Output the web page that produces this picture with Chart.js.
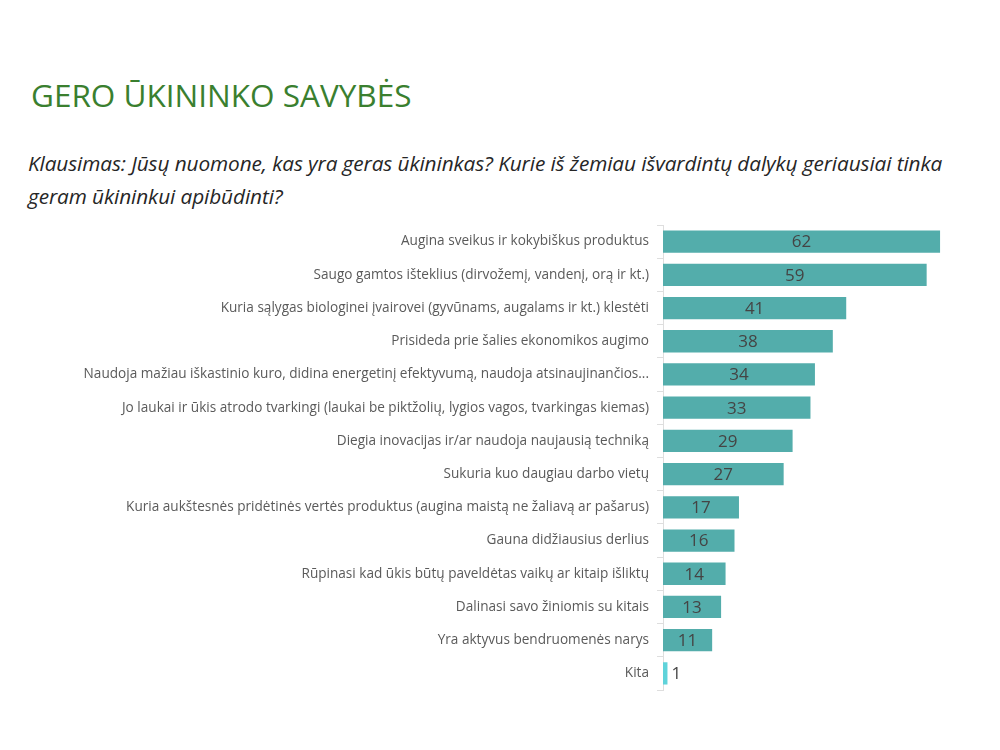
<!DOCTYPE html>
<html lang="lt">
<head>
  <meta charset="UTF-8" />
  <title>Gero ūkininko savybės</title>
  <script src="https://cdn.jsdelivr.net/npm/chart.js"></script>
  <style>
    body { margin: 0; background: #fff; font-family: "Open Sans", sans-serif; }
    #wrap { position: relative; width: 1000px; height: 750px; }
    h1 { position: absolute; left: 31px; top: 73px; margin: 0; font-weight: 400; font-size: 31.5px; color: #3a7f2f; }
    p.q { position: absolute; left: 28px; top: 147px; margin: 0; width: 968px; font-style: italic; font-size: 20.8px; line-height: 33px; color: #262626; letter-spacing: -0.1px; }
    #chartBox { position: absolute; left: 0; top: 0; width: 1000px; height: 750px; }
  </style>
</head>
<body>
  <div id="wrap">
    <h1>GERO ŪKININKO SAVYBĖS</h1>
    <p class="q">Klausimas: Jūsų nuomone, kas yra geras ūkininkas? Kurie iš žemiau išvardintų dalykų geriausiai tinka<br>geram ūkininkui apibūdinti?</p>
    <div id="chartBox"><canvas id="chart"></canvas></div>
  </div>

  <script>
    const categories = [
      'Augina sveikus ir kokybiškus produktus',
      'Saugo gamtos išteklius (dirvožemį, vandenį, orą ir kt.)',
      'Kuria sąlygas biologinei įvairovei (gyvūnams, augalams ir kt.) klestėti',
      'Prisideda prie šalies ekonomikos augimo',
      'Naudoja mažiau iškastinio kuro, didina energetinį efektyvumą, naudoja atsinaujinančios...',
      'Jo laukai ir ūkis atrodo tvarkingi (laukai be piktžolių, lygios vagos, tvarkingas kiemas)',
      'Diegia inovacijas ir/ar naudoja naujausią techniką',
      'Sukuria kuo daugiau darbo vietų',
      'Kuria aukštesnės pridėtinės vertės produktus (augina maistą ne žaliavą ar pašarus)',
      'Gauna didžiausius derlius',
      'Rūpinasi kad ūkis būtų paveldėtas vaikų ar kitaip išliktų',
      'Dalinasi savo žiniomis su kitais',
      'Yra aktyvus bendruomenės narys',
      'Kita'
    ];
    const values = [62, 59, 41, 38, 34, 33, 29, 27, 17, 16, 14, 13, 11, 1];
    const barColors = ['#53adab', '#53adab', '#53adab', '#53adab', '#53adab', '#53adab', '#53adab',
                       '#53adab', '#53adab', '#53adab', '#53adab', '#53adab', '#53adab', '#5fd3da'];

    // value labels: centred in the bar, outside when the bar is too narrow
    const valueLabels = {
      id: 'valueLabels',
      afterDatasetsDraw(chart) {
        const ctx = chart.ctx;
        const meta = chart.getDatasetMeta(0);
        ctx.save();
        ctx.font = '17px "Open Sans", sans-serif';
        ctx.fillStyle = '#444444';
        ctx.textBaseline = 'middle';
        meta.data.forEach((bar, i) => {
          const txt = String(values[i]);
          const w = ctx.measureText(txt).width;
          const barW = bar.x - bar.base;
          if (barW > w + 6) {
            ctx.textAlign = 'center';
            ctx.fillText(txt, bar.base + barW / 2, bar.y + 1);
          } else {
            ctx.textAlign = 'left';
            ctx.fillText(txt, bar.x + 4, bar.y + 1);
          }
        });
        ctx.restore();
      }
    };

    new Chart(document.getElementById('chart'), {
      type: 'bar',
      data: {
        labels: categories,
        datasets: [{
          data: values,
          backgroundColor: barColors,
          borderWidth: 0,
          categoryPercentage: 1,
          barPercentage: 0.67
        }]
      },
      options: {
        indexAxis: 'y',
        responsive: true,
        maintainAspectRatio: false,
        animation: false,
        layout: { padding: { top: 225, bottom: 60, left: 0, right: 51 } },
        plugins: { legend: { display: false }, tooltip: { enabled: false } },
        scales: {
          x: { display: false, min: 0, max: 64 },
          y: {
            afterFit(scale) { scale.width = 663; },
            border: { display: true, color: '#dedede' },
            grid: { drawOnChartArea: false, tickLength: 6, color: '#dedede' },
            ticks: {
              padding: 8,
              color: '#5a5a5a',
              font: { family: '"Open Sans", sans-serif', size: 13.6 },
              autoSkip: false
            }
          }
        }
      },
      plugins: [valueLabels]
    });
  </script>
</body>
</html>
